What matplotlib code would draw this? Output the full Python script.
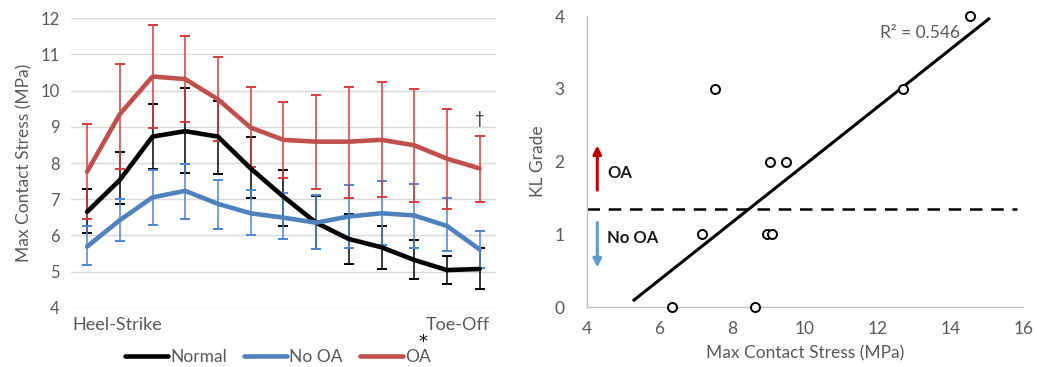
import numpy as np
import matplotlib
matplotlib.use('Agg')
import matplotlib.pyplot as plt

plt.rcParams['font.family'] = ['Lato', 'DejaVu Sans']

# Left chart: max contact stress across stance phase (13 time points)
phase = list(range(13))
normal = [6.65, 7.53, 8.73, 8.88, 8.73, 7.85, 7.07, 6.35, 5.90, 5.67, 5.32, 5.04, 5.07]
normal_hi = [7.28, 8.31, 9.62, 10.08, 9.72, 8.73, 7.81, 7.09, 6.60, 6.26, 5.86, 5.43, 5.66]
normal_lo = [6.06, 6.87, 7.84, 7.71, 7.70, 7.03, 6.27, 5.63, 5.20, 5.07, 4.79, 4.65, 4.52]

no_oa = [5.69, 6.42, 7.05, 7.23, 6.87, 6.61, 6.49, 6.35, 6.52, 6.61, 6.55, 6.26, 5.61]
no_oa_hi = [6.27, 7.00, 7.81, 7.96, 7.53, 7.24, 7.17, 7.12, 7.38, 7.51, 7.41, 7.03, 6.13]
no_oa_lo = [5.18, 5.84, 6.29, 6.45, 6.17, 6.00, 5.90, 5.62, 5.64, 5.72, 5.66, 5.57, 5.09]

oa = [7.76, 9.35, 10.39, 10.32, 9.76, 8.98, 8.64, 8.59, 8.59, 8.64, 8.49, 8.12, 7.85]
oa_hi = [9.08, 10.74, 11.81, 11.50, 10.92, 10.09, 9.69, 9.88, 10.09, 10.25, 10.04, 9.50, 8.76]
oa_lo = [6.46, 7.83, 8.98, 9.14, 8.60, 7.88, 7.58, 7.28, 7.03, 7.06, 6.91, 6.74, 6.93]

# Right chart: KL grade vs max contact stress
stress = [14.53, 7.53, 12.70, 9.05, 9.47, 7.16, 8.95, 9.08, 6.34, 8.62]
kl_grade = [4, 3, 3, 2, 2, 1, 1, 1, 0, 0]
trend_range = [5.3, 15.05]
oa_threshold = 1.345

GRAY = '#595959'
GRID = '#d9d9d9'
BLACK = '#000000'
BLUE = '#4f81bd'
RED = '#c0504d'
BLUE_ERR = '#4a86d0'
RED_ERR = '#dc3a3a'

fig = plt.figure(figsize=(10.37, 3.67), dpi=100)

# ---- left panel ----
ax = fig.add_axes([0.0682, 0.1616, 0.4101, 0.7885])
series = [
    ('Normal', normal, normal_lo, normal_hi, BLACK, BLACK),
    ('No OA', no_oa, no_oa_lo, no_oa_hi, BLUE, BLUE_ERR),
    ('OA', oa, oa_lo, oa_hi, RED, RED_ERR),
]
for name, y, lo, hi, col, ecol in series:
    y = np.array(y)
    err = [y - np.array(lo), np.array(hi) - y]
    ax.errorbar(phase, y, yerr=err, fmt='none', ecolor=ecol, elinewidth=1.1,
                capsize=3.8, capthick=1.4, zorder=2)
for name, y, lo, hi, col, ecol in series:
    ax.plot(phase, y, color=col, lw=3.3, label=name, solid_joinstyle='round',
            solid_capstyle='round', zorder=3)

ax.set_xlim(-0.5, 12.5)
ax.set_ylim(4, 12)
ax.set_yticks(range(4, 13))
ax.set_xticks([])
ax.grid(axis='y', color=GRID, lw=1.0)
ax.set_axisbelow(True)
for s in ax.spines.values():
    s.set_visible(False)
ax.tick_params(axis='y', length=0, labelsize=12, colors=GRAY, pad=8)
ax.set_ylabel('Max Contact Stress (MPa)', fontsize=12.5, color=GRAY, labelpad=6)
ax.text(0.005, -0.06, 'Heel-Strike', transform=ax.transAxes, ha='left', va='center',
        fontsize=13, color=GRAY)
ax.text(0.985, -0.06, 'Toe-Off', transform=ax.transAxes, ha='right', va='center',
        fontsize=13, color=GRAY)
ax.text(12, 9.0, '†', ha='center', va='bottom', fontsize=12, color='#333333')

fig.legend(loc='center', bbox_to_anchor=(0.268, 0.027), ncol=3, frameon=False,
           fontsize=12.5, handlelength=2.5, handletextpad=0.1, columnspacing=1.0,
           labelcolor=GRAY)
fig.text(423 / 1037, 1 - 342 / 367, '*', ha='center', va='center', fontsize=13,
         color=BLACK, family='DejaVu Sans')

# ---- right panel ----
ax2 = fig.add_axes([0.5658, 0.1627, 0.421, 0.7937])
slope, intercept = np.polyfit(stress, kl_grade, 1)
pred = slope * np.array(stress) + intercept
r2 = 1 - np.sum((np.array(kl_grade) - pred) ** 2) / np.sum((np.array(kl_grade) - np.mean(kl_grade)) ** 2)
tx = np.array(trend_range)
ax2.plot(tx, slope * tx + intercept, color=BLACK, lw=2.2, zorder=2)
ax2.plot(stress, kl_grade, 'o', ms=6.5, mfc='white', mec=BLACK, mew=1.4,
         zorder=3, clip_on=False)
ax2.axhline(oa_threshold, xmin=0, xmax=0.985, color=BLACK, lw=1.8, ls=(0, (5, 3.5)))
ax2.text(12.05, 3.76, 'R² = {:.3f}'.format(r2), ha='left', va='center', fontsize=12.5,
         color=GRAY)

ax2.annotate('', xy=(4.29, 2.26), xytext=(4.29, 1.57),
             arrowprops=dict(arrowstyle='-|>', color='#c00000', lw=2.2, mutation_scale=12))
ax2.annotate('', xy=(4.29, 0.51), xytext=(4.29, 1.2),
             arrowprops=dict(arrowstyle='-|>', color='#5b9bd5', lw=2.2, mutation_scale=12))
ax2.text(4.57, 1.84, 'OA', fontsize=12, fontweight='bold', ha='left', va='center',
         color='#1a1a1a')
ax2.text(4.57, 0.95, 'No OA', fontsize=12, fontweight='bold', ha='left', va='center',
         color='#1a1a1a')

ax2.set_xlim(4, 16)
ax2.set_ylim(0, 4)
ax2.set_xticks(range(4, 17, 2))
ax2.set_yticks(range(0, 5))
for side in ['top', 'right']:
    ax2.spines[side].set_visible(False)
for side in ['left', 'bottom']:
    ax2.spines[side].set_color('#bfbfbf')
    ax2.spines[side].set_linewidth(1.0)
ax2.tick_params(length=0, labelsize=12.5, colors=GRAY)
ax2.tick_params(axis='y', pad=16)
ax2.tick_params(axis='x', pad=10)
ax2.set_xlabel('Max Contact Stress (MPa)', fontsize=12.5, color=GRAY, labelpad=6)
ax2.set_ylabel('KL Grade', fontsize=12.5, color=GRAY, labelpad=6)

fig.savefig('out.png', dpi=100)
